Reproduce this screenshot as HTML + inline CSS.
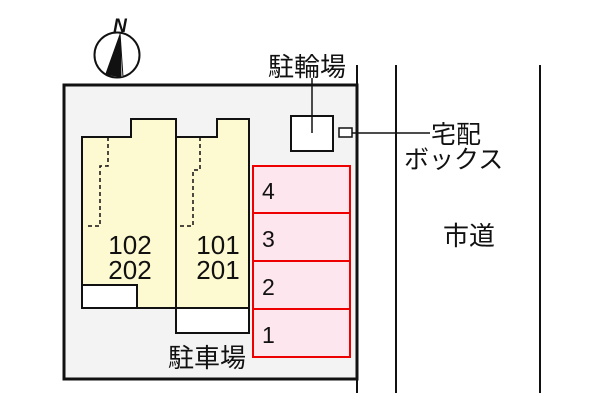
<!DOCTYPE html>
<html><head><meta charset="utf-8"><style>body{margin:0;background:#fff}svg{display:block}text{font-family:"Liberation Sans","Noto Sans CJK JP",sans-serif;fill:#111}</style></head><body>
<svg width="600" height="400" viewBox="0 0 600 400" xmlns="http://www.w3.org/2000/svg">
<rect x="64" y="85" width="293" height="294" fill="#f3f3f3" stroke="#111" stroke-width="3"/>
<line x1="357" y1="65" x2="357" y2="393" stroke="#111" stroke-width="2"/>
<line x1="396" y1="65" x2="396" y2="393" stroke="#111" stroke-width="2"/>
<line x1="540" y1="65" x2="540" y2="393" stroke="#111" stroke-width="2"/>
<circle cx="117" cy="55" r="22.5" fill="#fff" stroke="#111" stroke-width="2"/>
<polygon points="120,33 105,75 121,77" fill="#111"/>
<polygon points="120,33 121,77 123,77" fill="#fff" stroke="#111" stroke-width="1"/>
<text x="120" y="32" font-size="19" font-weight="bold" font-style="italic" text-anchor="middle">N</text>
<polygon points="82,137 131,137 131,119 176,119 176,308 82,308" fill="#fdf9d0" stroke="#111" stroke-width="2"/>
<polygon points="176,137 217,137 217,119 249,119 249,308 176,308" fill="#fdf9d0" stroke="#111" stroke-width="2"/>
<rect x="82" y="285" width="55" height="23" fill="#fff" stroke="#111" stroke-width="2"/>
<rect x="176" y="308" width="73" height="25" fill="#fff" stroke="#111" stroke-width="2"/>
<polyline points="108,137 108,166 100,166 100,226 87,226" fill="none" stroke="#111" stroke-width="1.5" stroke-dasharray="4,3"/>
<polyline points="200,137 200,170 193,170 193,226 178,226" fill="none" stroke="#111" stroke-width="1.5" stroke-dasharray="4,3"/>
<text x="130" y="254" font-size="26" text-anchor="middle">102</text>
<text x="130" y="279" font-size="26" text-anchor="middle">202</text>
<text x="218" y="254" font-size="26" text-anchor="middle">101</text>
<text x="218" y="279" font-size="26" text-anchor="middle">201</text>
<g fill="#fde6ee" stroke="#e00" stroke-width="2">
<rect x="253" y="166" width="97" height="47"/><rect x="253" y="213" width="97" height="48"/>
<rect x="253" y="261" width="97" height="48"/><rect x="253" y="309" width="97" height="48"/>
</g>
<text x="262" y="199" font-size="23">4</text>
<text x="262" y="247" font-size="23">3</text>
<text x="262" y="295" font-size="23">2</text>
<text x="262" y="343" font-size="23">1</text>
<rect x="291" y="116" width="42" height="35" fill="#fff" stroke="#111" stroke-width="2"/>
<line x1="312" y1="78" x2="312" y2="133" stroke="#111" stroke-width="1.5"/>
<text x="307" y="76" font-size="26" text-anchor="middle">駐輪場</text>
<rect x="339" y="128" width="13" height="9" fill="#fff" stroke="#111" stroke-width="1.5"/>
<line x1="352" y1="133" x2="430" y2="133" stroke="#111" stroke-width="1.5"/>
<text x="431" y="143" font-size="25">宅配</text>
<text x="404" y="168" font-size="25">ボックス</text>
<text x="443" y="245" font-size="26">市道</text>
<text x="207" y="367" font-size="26" text-anchor="middle">駐車場</text>
</svg>
</body></html>
